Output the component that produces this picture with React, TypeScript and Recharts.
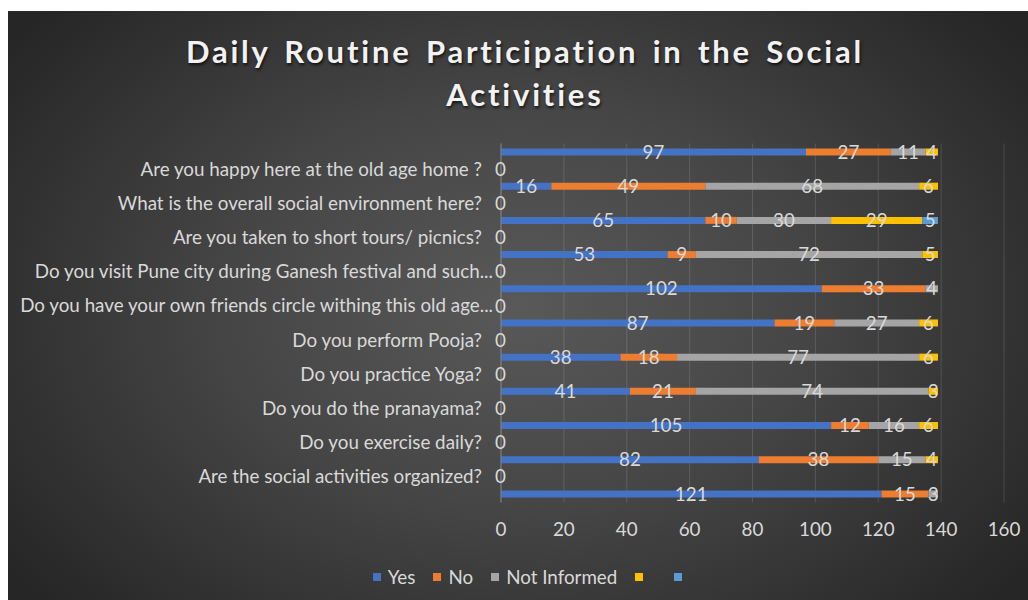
import React from 'react';
import { BarChart, Bar, XAxis, YAxis, CartesianGrid, LabelList, Legend } from 'recharts';

const QUESTIONS = [
  'Are you happy here at the old age home ?',
  'What is the overall social environment here?',
  'Are you taken to short tours/ picnics?',
  'Do you visit Pune city during Ganesh festival and such...',
  'Do you have your own friends circle withing this old age...',
  'Do you perform Pooja?',
  'Do you practice Yoga?',
  'Do you do the pranayama?',
  'Do you exercise daily?',
  'Are the social activities organized?',
];
const ZERO = [0, 0, 0, 0, 0, 0, 0, 0, 0, 0];

const YES = [97, 16, 65, 53, 102, 87, 38, 41, 105, 82, 121];
const NO = [27, 49, 10, 9, 33, 19, 18, 21, 12, 38, 15];
const NOT_INFORMED = [11, 68, 30, 72, 4, 27, 77, 74, 16, 15, 3];
const SERIES4 = [4, 6, 29, 5, null, 6, 6, 3, 6, 4, null];
const SERIES5 = [null, null, 5, null, null, null, null, null, null, null, null];

const X_TICKS = [0, 20, 40, 60, 80, 100, 120, 140, 160];

const SERIES = [
  { key: 'yes', name: 'Yes', color: '#4472C4' },
  { key: 'no', name: 'No', color: '#ED7D31' },
  { key: 'ni', name: 'Not Informed', color: '#A5A5A5' },
  { key: 's4', name: '', color: '#FFC000' },
  { key: 's5', name: '', color: '#5B9BD5' },
];

const FONT = "Lato, 'Open Sans', sans-serif";
const TEXT = '#D9D9D9';
const FS = 18.8;

type Row = { id: string; label: string; [k: string]: any };
const data: Row[] = [];
for (let i = 0; i < YES.length; i++) {
  data.push({
    id: `b${i}`,
    label: '',
    yes: YES[i],
    no: NO[i],
    ni: NOT_INFORMED[i],
    s4: SERIES4[i],
    s5: SERIES5[i],
    zero: null,
  });
  if (i < QUESTIONS.length) {
    data.push({
      id: `q${i}`,
      label: QUESTIONS[i],
      yes: null,
      no: null,
      ni: null,
      s4: null,
      s5: null,
      zero: ZERO[i],
    });
  }
}
const LABEL_BY_ID: Record<string, string> = {};
data.forEach((d) => (LABEL_BY_ID[d.id] = d.label));

const YTick = (props: any) => {
  const { x, y, payload } = props;
  const label = LABEL_BY_ID[payload.value] || '';
  if (!label) return null;
  const truncated = label.endsWith('...');
  return (
    <text
      x={x + (truncated ? 11 : 0)}
      y={y}
      dy="0.35em"
      textAnchor="end"
      fill={TEXT}
      fontSize={FS}
      fontFamily={FONT}
    >
      {label}
    </text>
  );
};

const LegendContent = () => (
  <div
    style={{
      display: 'flex',
      justifyContent: 'center',
      alignItems: 'center',
      fontFamily: FONT,
      fontSize: FS,
      color: TEXT,
      paddingLeft: 50,
    }}
  >
    {SERIES.map((s) => (
      <div key={s.key} style={{ display: 'flex', alignItems: 'center', marginRight: s.name ? 18 : 24 }}>
        <span style={{ display: 'inline-block', width: 8, height: 8, background: s.color, marginRight: 7 }} />
        <span>{s.name}</span>
      </div>
    ))}
  </div>
);

export default function App() {
  return (
    <div
      style={{
        position: 'absolute',
        left: 8,
        top: 11,
        width: 1020,
        height: 589,
        overflow: 'hidden',
        background:
          'radial-gradient(ellipse 62% 75% at 50% 50%, #595959 0%, #464646 45%, #262626 100%)',
      }}
    >
      <div
        style={{
          position: 'absolute',
          left: 7,
          top: 19,
          width: 1020,
          textAlign: 'center',
          fontFamily: FONT,
          fontWeight: 700,
          fontSize: 31,
          lineHeight: '43px',
          letterSpacing: 2.8,
          wordSpacing: 4,
          color: '#F2F2F2',
          textShadow: '1px 2px 3px rgba(0,0,0,0.7)',
        }}
      >
        Daily Routine Participation in the Social
        <br />
        Activities
      </div>
      <BarChart
        width={1020}
        height={589}
        data={data}
        layout="vertical"
        margin={{ top: 132.5, right: 24, left: 0, bottom: 57.5 }}
        style={{ position: 'absolute', left: 0, top: 0 }}
      >
        <CartesianGrid horizontal={false} vertical stroke="rgba(255,255,255,0.13)" />
        <XAxis
          type="number"
          domain={[0, 160]}
          ticks={X_TICKS}
          axisLine={false}
          tickLine={false}
          tickSize={0}
          tickMargin={20}
          height={40}
          tick={{ fill: TEXT, fontSize: FS, fontFamily: FONT }}
        />
        <YAxis
          type="category"
          dataKey="id"
          width={493}
          interval={0}
          tickLine={false}
          tickSize={0}
          tickMargin={19}
          axisLine={{ stroke: '#808080' }}
          tick={<YTick />}
        />
        <Legend
          layout="horizontal"
          verticalAlign="middle"
          align="center"
          wrapperStyle={{ position: 'absolute', top: 554, left: 0, width: 1020 }}
          content={<LegendContent />}
        />
        {SERIES.map((s) => (
          <Bar
            key={s.key}
            dataKey={s.key}
            name={s.name || s.key}
            stackId="a"
            fill={s.color}
            barSize={7}
            isAnimationActive={false}
          >
            <LabelList
              dataKey={s.key}
              position="center"
              fill={TEXT}
              fontSize={FS}
              fontFamily={FONT}
            />
          </Bar>
        ))}
        <Bar
          dataKey="zero"
          stackId="a"
          fill="transparent"
          barSize={7}
          minPointSize={1}
          isAnimationActive={false}
        >
          <LabelList dataKey="zero" position="center" fill={TEXT} fontSize={FS} fontFamily={FONT} dx={-1} />
        </Bar>
      </BarChart>
    </div>
  );
}
